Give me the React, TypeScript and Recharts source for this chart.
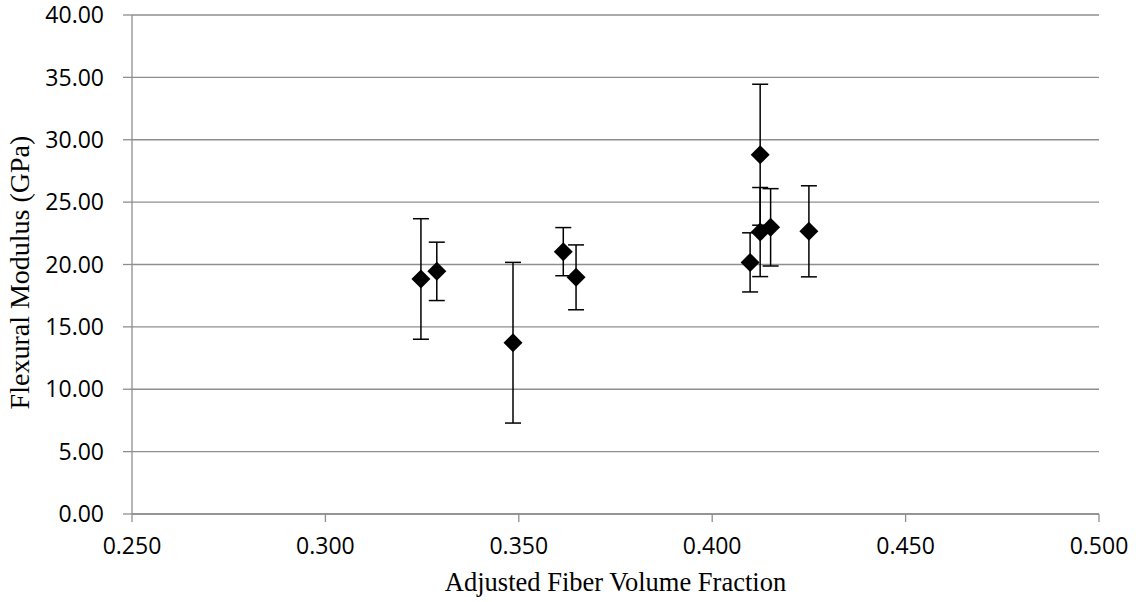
import { CartesianGrid, ErrorBar, Scatter, ScatterChart, XAxis, YAxis } from "recharts";

// values
const fiberFraction = [0.3247, 0.3288, 0.3485, 0.3615, 0.3648, 0.4098, 0.4124, 0.4124, 0.4151, 0.425];
const flexModulus = [18.84, 19.45, 13.73, 21.03, 18.97, 20.17, 28.8, 22.6, 22.98, 22.66];
const modulusError = [4.83, 2.34, 6.44, 1.93, 2.6, 2.37, 5.65, 3.57, 3.1, 3.65];
const xTicks = [0.25, 0.3, 0.35, 0.4, 0.45, 0.5];
const yTicks = [0, 5, 10, 15, 20, 25, 30, 35, 40];

const points = fiberFraction.map((x, i) => ({ x, y: flexModulus[i], err: modulusError[i] }));

const GRID = "#8e8e8e";
const tickStyle = { fill: "#000", fontSize: 23, fontFamily: "Open Sans" };
const titleStyle = { fill: "#000", fontSize: 26.5, fontFamily: "Liberation Serif", textAnchor: "middle" as const };

function Diamond(props: any) {
  const { cx, cy } = props;
  const r = 9.5;
  return <path d={`M${cx},${cy - r}L${cx + r},${cy}L${cx},${cy + r}L${cx - r},${cy}Z`} fill="#000" />;
}

// y title sits a bit below the plot centre in the original
function YTitle(props: any) {
  const { x, y, height } = props.viewBox;
  return (
    <text
      transform={`translate(${x + 29},${y + height / 2 + 8}) rotate(-90)`}
      textAnchor="middle"
      fontSize={28}
      fontFamily="Liberation Serif"
      fill="#000"
    >
      Flexural Modulus (GPa)
    </text>
  );
}

export default function App() {
  return (
    <div style={{ position: "absolute", left: 0, top: 0, background: "#fff" }}>
      <ScatterChart width={1136} height={602} margin={{ top: 15, right: 37, left: 0, bottom: 0 }}>
        <CartesianGrid vertical={false} stroke={GRID} strokeWidth={1.3} />
        <XAxis
          dataKey="x"
          type="number"
          domain={[0.25, 0.5]}
          ticks={xTicks}
          tickFormatter={(v: number) => v.toFixed(3)}
          stroke={GRID}
          strokeWidth={1.3}
          tick={tickStyle}
          tickSize={8}
          tickMargin={16}
          height={88}
          label={{ value: "Adjusted Fiber Volume Fraction", position: "insideBottom", offset: 11, style: titleStyle }}
        />
        <YAxis
          dataKey="y"
          type="number"
          domain={[0, 40]}
          ticks={yTicks}
          tickFormatter={(v: number) => v.toFixed(2)}
          stroke={GRID}
          strokeWidth={1.3}
          tick={tickStyle}
          tickSize={9}
          tickMargin={19}
          width={132}
          label={{ content: <YTitle /> }}
        />
        <Scatter data={points} shape={<Diamond />} isAnimationActive={false}>
          <ErrorBar dataKey="err" direction="y" width={8} stroke="#000" strokeWidth={1.5} />
        </Scatter>
      </ScatterChart>
    </div>
  );
}
